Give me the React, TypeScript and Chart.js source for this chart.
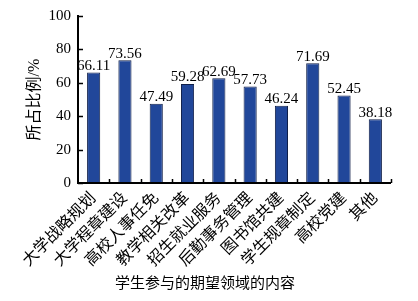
import React, { useEffect, useRef } from "react";
import { Chart, registerables } from "chart.js";

Chart.register(...registerables);

const categories = [
  "大学战略规划",
  "大学程章建设",
  "高校人事任免",
  "教学相关改革",
  "招生就业服务",
  "后勤事务管理",
  "图书馆共建",
  "学生规章制定",
  "高校党建",
  "其他",
];
const values = [66.11, 73.56, 47.49, 59.28, 62.69, 57.73, 46.24, 71.69, 52.45, 38.18];
const yTicks = [0, 20, 40, 60, 80, 100];
const yTitle = "所占比例/%";
const xTitle = "学生参与的期望领域的内容";

const SERIF = "'Liberation Serif', 'Noto Sans CJK SC', serif";

const decor = {
  id: "decor",
  afterDatasetsDraw(chart: any) {
    const ctx = chart.ctx;
    const meta = chart.getDatasetMeta(0);
    ctx.save();
    ctx.fillStyle = "#000";
    ctx.font = `15px ${SERIF}`;
    ctx.textAlign = "center";
    ctx.textBaseline = "bottom";
    meta.data.forEach((el: any, i: number) => {
      ctx.fillText(values[i].toFixed(2), el.x, el.y + 1);
    });
    ctx.restore();
  },
  afterDraw(chart: any) {
    const ctx = chart.ctx;
    const { left, right, top, bottom } = chart.chartArea;
    const ys = chart.scales.y;
    ctx.save();
    ctx.strokeStyle = "#000";
    ctx.lineWidth = 2;
    ctx.beginPath();
    ctx.moveTo(left, top - 1);
    ctx.lineTo(left, bottom);
    ctx.lineTo(right, bottom);
    ctx.stroke();
    ctx.lineWidth = 1.5;
    ctx.beginPath();
    yTicks.forEach((v) => {
      const y = Math.round(ys.getPixelForValue(v)) + 0.5;
      ctx.moveTo(left, y);
      ctx.lineTo(left + 5, y);
    });
    const n = categories.length;
    for (let i = 1; i <= n; i++) {
      const x = Math.round(left + ((right - left) * i) / n) + 0.5;
      ctx.moveTo(x, bottom);
      ctx.lineTo(x, bottom - 4);
    }
    ctx.stroke();
    ctx.fillStyle = "#000";
    ctx.font = `15px ${SERIF}`;
    ctx.textAlign = "center";
    ctx.textBaseline = "middle";
    ctx.fillText(xTitle, 205, 284);
    ctx.restore();
  },
};

export default function App() {
  const ref = useRef<HTMLCanvasElement>(null);
  useEffect(() => {
    document.body.style.margin = "0";
    const chart = new Chart(ref.current!, {
      type: "bar",
      data: {
        labels: categories,
        datasets: [
          {
            data: values,
            backgroundColor: "#21479a",
            borderColor: "#101f48",
            borderWidth: 1,
            categoryPercentage: 1,
            barPercentage: 0.42,
          },
        ],
      },
      options: {
        responsive: false,
        animation: false,
        layout: { padding: { top: 5, right: 27, left: 0, bottom: 0 } },
        plugins: { legend: { display: false }, tooltip: { enabled: false } },
        scales: {
          x: {
            grid: { display: false, drawTicks: false },
            border: { display: false },
            ticks: {
              color: "#000",
              font: { family: SERIF, size: 16 },
              minRotation: 45,
              maxRotation: 45,
              padding: 6,
              autoSkip: false,
            },
            afterFit(s: any) {
              s.height = 118;
            },
          },
          y: {
            min: 0,
            max: 100,
            grid: { display: false, drawTicks: false },
            border: { display: false },
            ticks: {
              stepSize: 20,
              color: "#000",
              font: { family: SERIF, size: 15 },
              padding: 7,
            },
            title: {
              display: true,
              text: yTitle,
              color: "#000",
              font: { family: SERIF, size: 16 },
              padding: { top: 25, bottom: 0 },
            },
            afterFit(s: any) {
              s.width = 78;
            },
          },
        },
      },
      plugins: [decor],
    });
    return () => chart.destroy();
  }, []);
  return (
    <div style={{ width: 418, height: 301, background: "#fff" }}>
      <canvas ref={ref} width={418} height={301} />
    </div>
  );
}
